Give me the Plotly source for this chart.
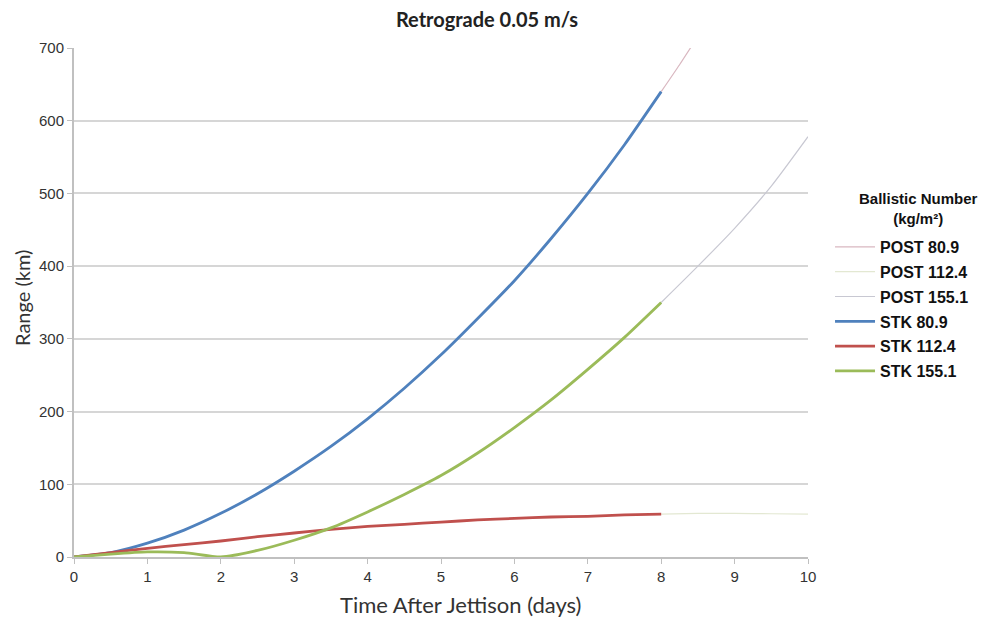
import plotly.graph_objects as go

# ---- data ----
stk_x = [0, 0.5, 1, 1.5, 2, 2.5, 3, 3.5, 4, 4.5, 5, 5.5, 6, 6.5, 7, 7.5, 8]
stk_80_9 = [0, 6, 19, 37, 60, 87, 118, 152, 190, 232, 278, 328, 380, 438, 500, 567, 640]
stk_112_4 = [0, 6, 12, 17, 22, 28, 33, 38, 42, 45, 48, 51, 53, 55, 56, 58, 59]
stk_155_1 = [0, 4, 7, 6, 0, 9, 23, 40, 62, 86, 112, 143, 178, 216, 258, 302, 350]

post_80_9_x = [8, 8.25, 8.5]
post_80_9 = [640, 677, 716]
post_x = [8, 8.5, 9, 9.5, 10]
post_112_4 = [59, 60, 60, 59.5, 59]
post_155_1 = [350, 400, 452, 510, 578]

x_ticks = [0, 1, 2, 3, 4, 5, 6, 7, 8, 9, 10]
y_ticks = [0, 100, 200, 300, 400, 500, 600, 700]

fig = go.Figure()

def add(name, x, y, color, width, grp):
    fig.add_trace(go.Scatter(x=x, y=y, mode="lines", name=name, legendgroup=grp,
                             line=dict(color=color, width=width, shape="spline", smoothing=0.6)))

add("POST 80.9", post_80_9_x, post_80_9, "#d9b7c0", 1.2, "a")
add("POST 112.4", post_x, post_112_4, "#e3e8d2", 1.2, "b")
add("POST 155.1", post_x, post_155_1, "#c8c8d2", 1.2, "c")
add("STK 80.9", stk_x, stk_80_9, "#4f81bd", 2.8, "d")
add("STK 112.4", stk_x, stk_112_4, "#c0504d", 2.8, "e")
add("STK 155.1", stk_x, stk_155_1, "#9bbb59", 2.8, "f")

# page body has an 8px margin, so the figure is 982x610 and offset by 8px
W, H = 982, 610
fig.update_layout(
    width=W, height=H,
    margin=dict(l=66, r=182, t=40, b=61),
    paper_bgcolor="white", plot_bgcolor="white",
    font=dict(family="Liberation Sans, Arial", color="#333333"),
    title=dict(text="<b>Retrograde 0.05 m/s</b>", x=479 / W, xanchor="center",
               y=1 - 12 / H, yanchor="middle",
               font=dict(family="Lato, Open Sans", size=20, color="#222222")),
    showlegend=True,
    legend=dict(
        font=dict(size=16, color="#111111", family="Liberation Sans, Arial", weight="bold"),
        x=1.03, xanchor="left", y=(549 - 222) / 509, yanchor="top",
        traceorder="grouped", tracegroupgap=1,
        itemwidth=40,
        bgcolor="rgba(0,0,0,0)",
    ),
    xaxis=dict(range=[0, 10], tickvals=x_ticks, ticktext=[str(v) for v in x_ticks],
               showgrid=False, zeroline=False,
               showline=True, linecolor="#c0c0c0", linewidth=2,
               ticks="outside", ticklen=5, tickcolor="#c0c0c0", tickwidth=1,
               tickfont=dict(size=15, color="#333333")),
    yaxis=dict(range=[0, 700], tickvals=y_ticks, ticktext=[str(v) for v in y_ticks],
               showgrid=True, gridcolor="#d6d6d6", gridwidth=2, zeroline=False,
               showline=True, linecolor="#c0c0c0", linewidth=2,
               ticks="outside", ticklen=5, tickcolor="#c0c0c0", tickwidth=1,
               tickfont=dict(size=15, color="#333333")),
    annotations=[
        dict(text="Time After Jettison (days)", x=(461 - 74) / 734, y=-47 / 509,
             xref="paper", yref="paper",
             xanchor="center", yanchor="middle", showarrow=False,
             font=dict(family="Lato, Open Sans", size=22, color="#333333")),
        dict(text="Range (km)", x=(22 - 74) / 734, y=(557 - 298) / 509,
             xref="paper", yref="paper",
             showarrow=False, textangle=-90, xanchor="center", yanchor="middle",
             font=dict(family="Lato, Open Sans", size=20, color="#333333")),
        dict(text="<b>Ballistic Number<br>(kg/m²)</b>", align="center",
             x=(910 - 66) / 734, y=(549 - 200) / 509, xref="paper", yref="paper",
             xanchor="center", yanchor="middle", showarrow=False,
             font=dict(family="Liberation Sans, Arial", size=15, color="#111111")),
    ],
)

fig.write_html("out.html")
